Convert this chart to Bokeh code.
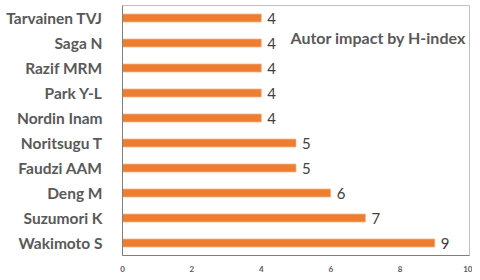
from bokeh.plotting import figure
from bokeh.models import Label, FixedTicker, Range1d, ColumnDataSource
from bokeh.embed import file_html
from bokeh.resources import INLINE
from bokeh.core.properties import value

authors = ["Wakimoto S", "Suzumori K", "Deng M", "Faudzi AAM", "Noritsugu T",
           "Nordin Inam", "Park Y-L", "Razif MRM", "Saga N", "Tarvainen TVJ"]
h_index = [9, 7, 6, 5, 5, 4, 4, 4, 4, 4]
x_ticks = [0, 2, 4, 6, 8, 10]
title_text = "Autor impact by H-index"

src = ColumnDataSource(dict(a=authors, h=h_index, lbl=[str(v) for v in h_index]))

p = figure(width=472, height=276, y_range=authors, x_range=Range1d(0, 10),
           output_backend="svg", toolbar_location=None,
           min_border_left=122, min_border_right=3, min_border_top=5, min_border_bottom=21)

p.hbar(y="a", right="h", left=0, height=0.32, source=src,
       fill_color="#ED7D31", line_color="#F6B48A", line_width=0.8)

p.text(x="h", y="a", text="lbl", source=src, x_offset=6,
       text_font=value("Lato"), text_font_size="15px", text_color="#404040",
       text_baseline="middle", text_align="left")

p.add_layout(Label(x=4.84, y=8.72, text=title_text, text_font="Lato",
                   text_font_style="bold", text_font_size="16px",
                   text_color="#595959", text_baseline="middle"))

p.xgrid.visible = False
p.ygrid.visible = False
p.outline_line_color = "#BFBFBF"
p.outline_line_width = 1

p.xaxis.ticker = FixedTicker(ticks=x_ticks)
p.xaxis.major_tick_line_color = None
p.xaxis.minor_tick_line_color = None
p.xaxis.axis_line_color = "#7F7F7F"
p.xaxis.major_label_text_font = "Lato"
p.xaxis.major_label_text_font_style = "bold"
p.xaxis.major_label_text_font_size = "8px"
p.xaxis.major_label_text_color = "#595959"
p.xaxis.major_label_standoff = 4

p.yaxis.major_tick_line_color = None
p.yaxis.minor_tick_line_color = None
p.yaxis.axis_line_color = "#7F7F7F"
p.yaxis.major_label_text_font = "Lato"
p.yaxis.major_label_text_font_style = "bold"
p.yaxis.major_label_text_font_size = "15.5px"
p.yaxis.major_label_text_color = "#595959"
p.yaxis.major_label_standoff = 14

open("out.html", "w").write(file_html(p, INLINE))
